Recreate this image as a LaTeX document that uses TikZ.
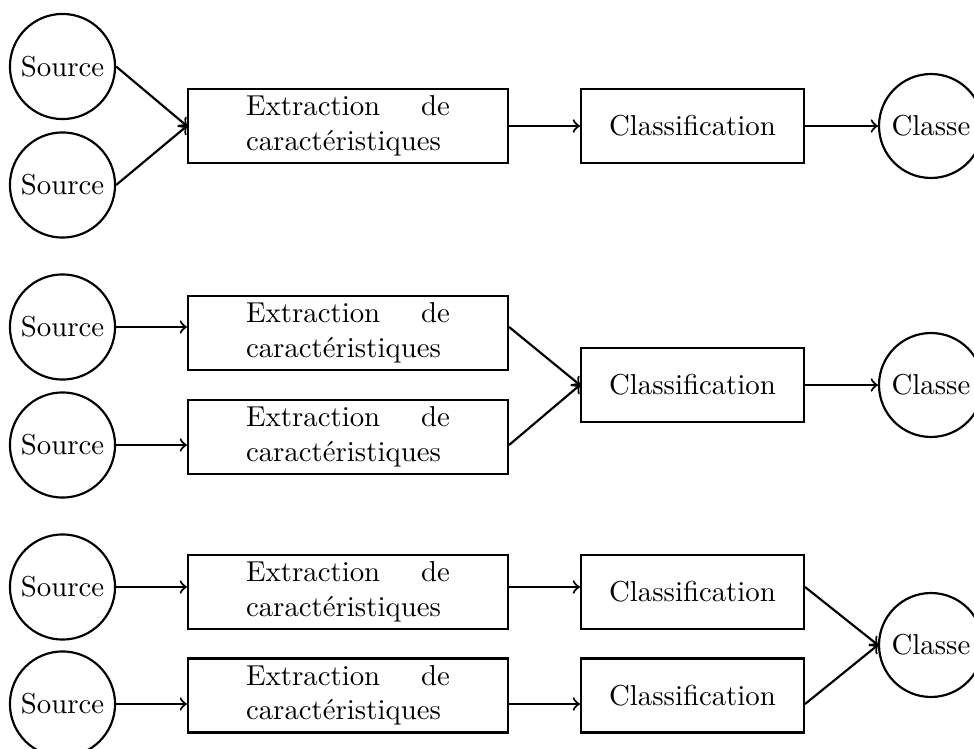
\documentclass[tikz,border=0pt]{standalone}
\usetikzlibrary{calc}
\begin{document}
\begin{tikzpicture}[x=0.3472pt,y=-0.3472pt,line width=0.75pt,
  src/.style={circle,draw,minimum size=36.5pt,inner sep=0pt},
  clsout/.style={circle,draw,minimum size=36.1pt,inner sep=0pt},
  extbox/.style={rectangle,draw,minimum width=111.1pt,minimum height=25.7pt,text width=70.8pt,align=left,inner xsep=0pt,inner ysep=1pt},
  clsbox/.style={rectangle,draw,minimum width=77.4pt,minimum height=25.7pt,inner sep=1pt},
  arr/.style={->}]
\useasboundingbox (0,0) rectangle (974,749);
\clip (0,0) rectangle (974,749);
\newcommand{\extxt}{\hbox to 70.8pt{Extraction\hfill de}\\caractéristiques}
% Row 1
\node[src] (a1) at (62.5,66.5) {Source};
\node[src] (a2) at (62.5,185) {Source};
\node[extbox] (ae) at (348,126) {\extxt};
\node[clsbox] (ac) at (692.5,126) {Classification};
\node[clsout] (ak) at (931,126) {Classe};
\draw[arr] (a1.east) -- (ae.west);
\draw[arr] (a2.east) -- (ae.west);
\draw[arr] (ae) -- (ac);
\draw[arr] (ac) -- (ak);
% Row 2
\node[src] (b1) at (62.5,327) {Source};
\node[src] (b2) at (62.5,445) {Source};
\node[extbox] (be1) at (348,333) {\extxt};
\node[extbox] (be2) at (348,437) {\extxt};
\node[clsbox] (bc) at (692.5,385) {Classification};
\node[clsout] (bk) at (931,385) {Classe};
\draw[arr] (b1) -- (b1 -| be1.west);
\draw[arr] (b2) -- (b2 -| be2.west);
\draw[arr] (b1 -| be1.east) -- (bc.west);
\draw[arr] (b2 -| be2.east) -- (bc.west);
\draw[arr] (bc) -- (bk);
% Row 3
\node[src] (c1) at (62.5,587) {Source};
\node[src] (c2) at (62.5,704) {Source};
\node[extbox] (ce1) at (348,592) {\extxt};
\node[extbox] (ce2) at (348,695.5) {\extxt};
\node[clsbox] (cc1) at (692.5,592) {Classification};
\node[clsbox] (cc2) at (692.5,695.5) {Classification};
\node[clsout] (ck) at (931,645) {Classe};
\draw[arr] (c1) -- (c1 -| ce1.west);
\draw[arr] (c2) -- (c2 -| ce2.west);
\draw[arr] (c1 -| ce1.east) -- (c1 -| cc1.west);
\draw[arr] (c2 -| ce2.east) -- (c2 -| cc2.west);
\draw[arr] (c1 -| cc1.east) -- (ck.west);
\draw[arr] (c2 -| cc2.east) -- (ck.west);
\end{tikzpicture}
\end{document}
